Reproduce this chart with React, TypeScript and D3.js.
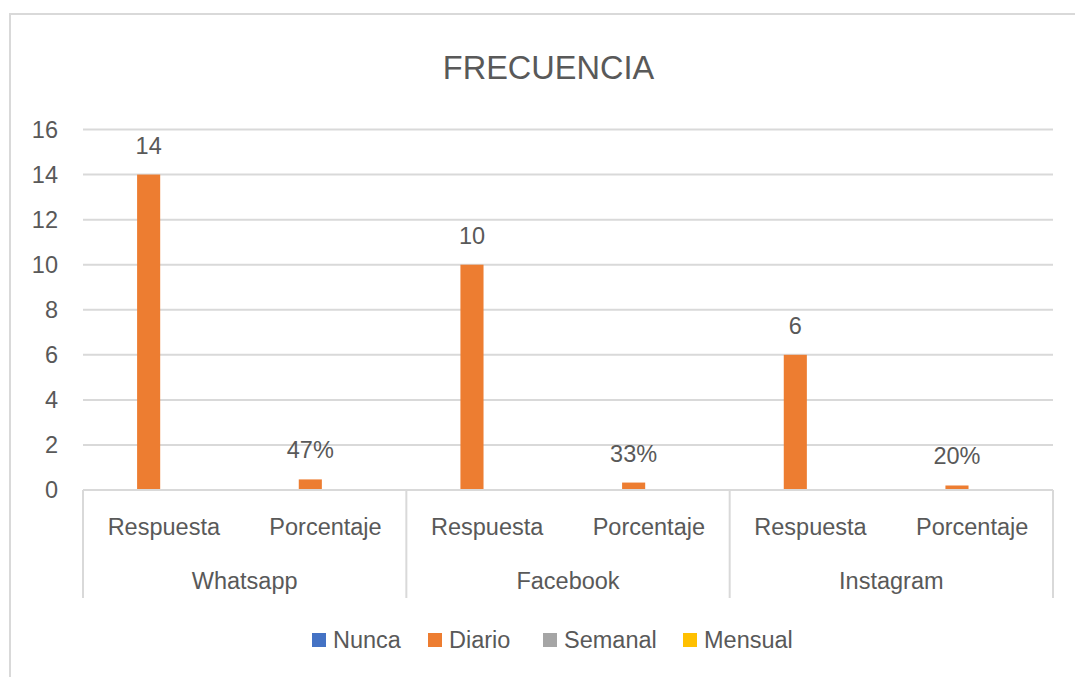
import React, { useEffect, useRef } from "react";
import * as d3 from "d3";

const groups = ["Whatsapp", "Facebook", "Instagram"];
const subCategories = ["Respuesta", "Porcentaje"];
const seriesNames = ["Nunca", "Diario", "Semanal", "Mensual"];
const seriesColors = ["#4472C4", "#ED7D31", "#A5A5A5", "#FFC000"];
// values per category (Whatsapp-Respuesta, Whatsapp-Porcentaje, Facebook-..., Instagram-...)
const nuncaValues = [0, 0, 0, 0, 0, 0];
const diarioValues = [14, 0.47, 10, 0.33, 6, 0.2];
const semanalValues = [0, 0, 0, 0, 0, 0];
const mensualValues = [0, 0, 0, 0, 0, 0];
const diarioLabels = ["14", "47%", "10", "33%", "6", "20%"];
const yTicks = [0, 2, 4, 6, 8, 10, 12, 14, 16];

const W = 1075;
const H = 677;
const FONT = "'Liberation Sans', Arial, sans-serif";
const TXT = "#595959";
const GRID = "#d9d9d9";

export default function App() {
  const ref = useRef<SVGSVGElement>(null);

  useEffect(() => {
    const svg = d3.select(ref.current);
    svg.selectAll("*").remove();

    const left = 83, right = 1053, top = 129.5, bottom = 490;

    // chart border
    svg.append("rect")
      .attr("x", 10).attr("y", 14)
      .attr("width", W + 20).attr("height", H + 20)
      .attr("fill", "#fff").attr("stroke", GRID).attr("stroke-width", 2);

    // title
    svg.append("text")
      .attr("x", 548.5).attr("y", 79)
      .attr("text-anchor", "middle")
      .attr("font-family", FONT).attr("font-size", 32.5)
      .attr("fill", TXT).text("FRECUENCIA");

    const y = d3.scaleLinear().domain([0, 16]).range([bottom, top]);
    const cats = groups.flatMap((g) => subCategories.map((s) => `${g}|${s}`));
    const x = d3.scaleBand().domain(cats).range([left, right]).padding(0);
    const bw = x.bandwidth() / 7;
    const xs = d3.scaleBand().domain(seriesNames).range([31, 31 + 4 * bw]).padding(0);

    // gridlines
    svg.append("g").selectAll("line").data(yTicks).join("line")
      .attr("x1", left).attr("x2", right)
      .attr("y1", (d) => y(d)).attr("y2", (d) => y(d))
      .attr("stroke", GRID).attr("stroke-width", 2);

    // y tick labels
    svg.append("g").selectAll("text").data(yTicks).join("text")
      .attr("x", 58).attr("y", (d) => y(d))
      .attr("dy", "0.36em")
      .attr("text-anchor", "end")
      .attr("font-family", FONT).attr("font-size", 23.5)
      .attr("fill", TXT).text((d) => String(d));

    // bars
    const allValues = [nuncaValues, diarioValues, semanalValues, mensualValues];
    allValues.forEach((vals, si) => {
      svg.append("g").selectAll("rect").data(vals).join("rect")
        .attr("x", (_d, i) => (x(cats[i]) as number) + (xs(seriesNames[si]) as number))
        .attr("width", xs.bandwidth())
        .attr("y", (d) => y(d))
        .attr("height", (d) => bottom - y(d))
        .attr("fill", seriesColors[si]);
    });

    // Diario data labels
    svg.append("g").selectAll("text").data(diarioValues).join("text")
      .attr("x", (_d, i) => (x(cats[i]) as number) + (xs("Diario") as number) + xs.bandwidth() / 2)
      .attr("y", (d) => y(d) - 21)
      .attr("text-anchor", "middle")
      .attr("font-family", FONT).attr("font-size", 23.5)
      .attr("fill", TXT).text((_d, i) => diarioLabels[i]);

    // baseline
    svg.append("line")
      .attr("x1", left).attr("x2", right)
      .attr("y1", bottom).attr("y2", bottom)
      .attr("stroke", GRID).attr("stroke-width", 2);

    // group separators
    const gw = x.bandwidth() * subCategories.length;
    const seps = d3.range(groups.length + 1).map((i) => left + i * gw);
    svg.append("g").selectAll("line").data(seps).join("line")
      .attr("x1", (d) => d).attr("x2", (d) => d)
      .attr("y1", bottom).attr("y2", 598)
      .attr("stroke", GRID).attr("stroke-width", 2);

    // sub category labels
    svg.append("g").selectAll("text").data(cats).join("text")
      .attr("x", (d) => (x(d) as number) + x.bandwidth() / 2)
      .attr("y", 535)
      .attr("text-anchor", "middle")
      .attr("font-family", FONT).attr("font-size", 23.5)
      .attr("fill", TXT).text((d) => d.split("|")[1]);

    // group labels
    svg.append("g").selectAll("text").data(groups).join("text")
      .attr("x", (_d, i) => left + (i + 0.5) * gw)
      .attr("y", 589)
      .attr("text-anchor", "middle")
      .attr("font-family", FONT).attr("font-size", 23.5)
      .attr("fill", TXT).text((d) => d);

    // legend
    const legX = [312, 428, 543, 683];
    const lg = svg.append("g");
    seriesNames.forEach((name, i) => {
      lg.append("rect")
        .attr("x", legX[i]).attr("y", 633)
        .attr("width", 14).attr("height", 14)
        .attr("fill", seriesColors[i]);
      lg.append("text")
        .attr("x", legX[i] + 21).attr("y", 648)
        .attr("font-family", FONT).attr("font-size", 23.5)
        .attr("fill", TXT).text(name);
    });
  }, []);

  return (
    <svg
      ref={ref}
      width={W}
      height={H}
      style={{ position: "absolute", left: 0, top: 0, background: "#fff" }}
    />
  );
}
